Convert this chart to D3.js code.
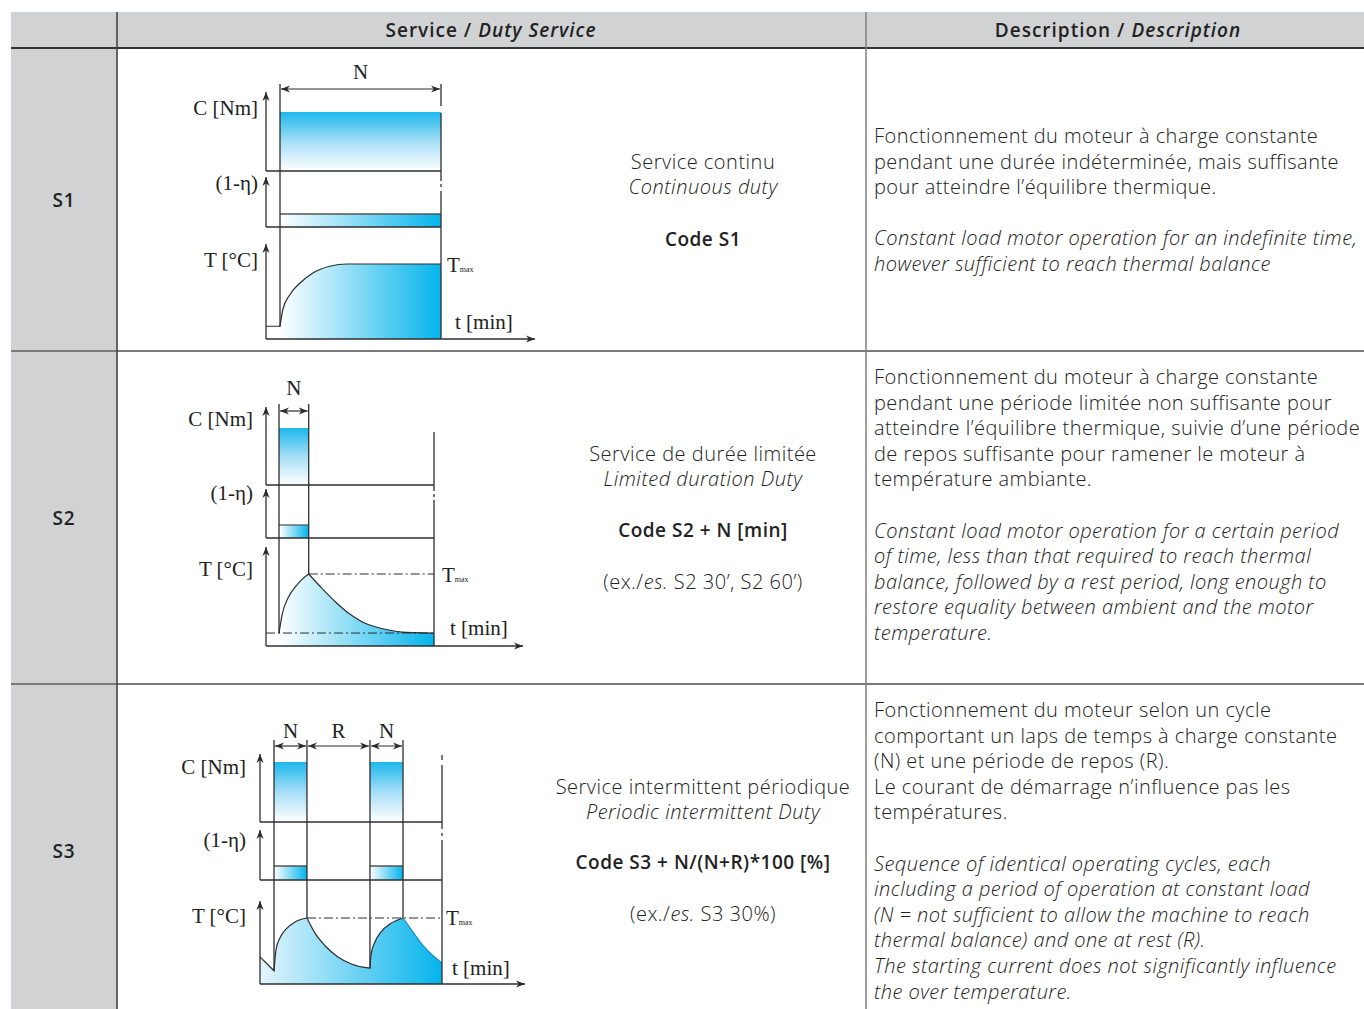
<!DOCTYPE html>
<html><head><meta charset="utf-8">
<script src="https://cdn.jsdelivr.net/npm/d3@7"></script>
<style>body{margin:0;background:#fff}svg{display:block}</style>
</head><body>
<script>
// ---------------- DATA ----------------
const headerTitles = [["Service / ", "Duty Service"], ["Description / ", "Description"]];
const rowLabels = ["S1", "S2", "S3"];
const serviceFr = ["Service continu", "Service de durée limitée", "Service intermittent périodique"];
const serviceEn = ["Continuous duty", "Limited duration Duty", "Periodic intermittent Duty"];
const serviceCodes = ["Code S1", "Code S2 + N [min]", "Code S3 + N/(N+R)*100 [%]"];
const serviceExamples = [null, ["(ex./", "es.", " S2 30’, S2 60’)"], ["(ex./", "es.", " S3 30%)"]];
const descFr = [
  ["Fonctionnement du moteur à charge constante",
   "pendant une durée indéterminée, mais suffisante",
   "pour atteindre l’équilibre thermique."],
  ["Fonctionnement du moteur à charge constante",
   "pendant une période limitée non suffisante pour",
   "atteindre l’équilibre thermique, suivie d’une période",
   "de repos suffisante pour ramener le moteur à",
   "température ambiante."],
  ["Fonctionnement du moteur selon un cycle",
   "comportant un laps de temps à charge constante",
   "(N) et une période de repos (R).",
   "Le courant de démarrage n’influence pas les",
   "températures."]
];
const descEn = [
  ["Constant load motor operation for an indefinite time,",
   "however sufficient to reach thermal balance"],
  ["Constant load motor operation for a certain period",
   "of time, less than that required to reach thermal",
   "balance, followed by a rest period, long enough to",
   "restore equality between ambient and the motor",
   "temperature."],
  ["Sequence of identical operating cycles, each",
   "including a period of operation at constant load",
   "(N = not sufficient to allow the machine to reach",
   "thermal balance) and  one at rest (R).",
   "The starting current does not significantly influence",
   "the over temperature."]
];
const axisLabels = ["C [Nm]", "(1-η)", "T [°C]"];
const timeLabel = "t [min]";
// diagram time data (arbitrary minutes), temperature in % of Tmax
const s1End = 25;
const s1Pulses = [[2, 25]];
const s1Dims = [["N", 2, 25]];
const s1Temp = [
  [[0, 17], [2, 17]],
  [[2, 17], [2.4, 39], [3.4, 59], [4.9, 75], [6.7, 88], [9.1, 97], [11.6, 100], [25, 100]]
];
const s1Refs = [];
const s2End = 24;
const s2Pulses = [[1.86, 6.1]];
const s2Dims = [["N", 1.86, 6.1]];
const s2Temp = [
  [[1.86, 18], [2.29, 43], [3.24, 68.5], [4.19, 82], [5.14, 92.6], [6.1, 100]],
  [[6.1, 100], [8, 80], [9.9, 61.5], [11.81, 45.4], [13.71, 33.8], [15.61, 26.8], [17.53, 22.2], [19.43, 19.4], [21.33, 18.5], [24, 18]]
];
const s2Refs = [[6.1, 24, 100], [0, 24, 18]];
const s3End = 26;
const s3Pulses = [[2, 6.71], [15.71, 20.43]];
const s3Dims = [["N", 2, 6.71], ["R", 6.71, 15.71], ["N", 15.71, 20.43]];
const s3Temp = [
  [[0, 41], [2, 20]],
  [[2, 20], [2.29, 52], [2.86, 70], [3.71, 83], [5, 94], [6.71, 100]],
  [[6.71, 100], [7.86, 77], [9.29, 58], [11.14, 41], [13.14, 30], [15.71, 24]],
  [[15.71, 24], [15.86, 44], [16.43, 64], [17.29, 79], [18.57, 91], [20.43, 100]],
  [[20.43, 100], [21.43, 85], [22.86, 64], [24.29, 47], [26, 32]]
];
const s3Refs = [[6.71, 26, 100]];

// ---------------- LAYOUT ----------------
const W = 1364, H = 1009;
const diagrams = [
  {end: s1End, pulses: s1Pulses, dims: s1Dims, temp: s1Temp, refs: s1Refs, fillFrom: 1, lastBlue: false,
   ax: 266, right: 441, arrowEnd: 535, extTop: 84, dimY: 89, dimLabelY: 72,
   C: {top: 92, rect: 112, bottom: 171}, E: {top: 177, rect: 214, bottom: 227}, T: {top: 244, tmax: 264, bottom: 339},
   labelX: 258, labelYs: [108, 183, 260], tmaxPos: [447, 265], tPos: [455, 322],
   rightSegs: [[84, 106], [113, 181], [184, 187], [191, 339]]},
  {end: s2End, pulses: s2Pulses, dims: s2Dims, temp: s2Temp, refs: s2Refs, fillFrom: 0, lastBlue: false,
   ax: 266, right: 434, arrowEnd: 523, extTop: 404, dimY: 411, dimLabelY: 388,
   C: {top: 407, rect: 428, bottom: 485}, E: {top: 489, rect: 525, bottom: 538}, T: {top: 547, tmax: 574, bottom: 646},
   labelX: 253, labelYs: [419, 493, 569], tmaxPos: [442, 575], tPos: [450, 628],
   rightSegs: [[432, 491], [494, 497], [500, 646]]},
  {end: s3End, pulses: s3Pulses, dims: s3Dims, temp: s3Temp, refs: s3Refs, fillFrom: 0, lastBlue: true,
   ax: 260, right: 442, arrowEnd: 525, extTop: 740, dimY: 746, dimLabelY: 731,
   C: {top: 754, rect: 762, bottom: 822}, E: {top: 830, rect: 866, bottom: 880}, T: {top: 901, tmax: 918, bottom: 984},
   labelX: 246, labelYs: [767, 840, 916], tmaxPos: [446, 918], tPos: [452, 968],
   rightSegs: [[755, 760], [765, 829], [833, 836], [840, 984]]}
];
const rowMid = [200, 518, 851];
const centerYs = [[162, 187, 239], [454, 479, 530, 582], [787, 812, 862, 914]];
const descTop = [136, 377, 710];
const lineStep = 25.6;
const SANS = "'Open Sans', 'DejaVu Sans', sans-serif";
const SERIF = "'Liberation Serif', 'DejaVu Serif', serif";
const BLUE = "#04b4ec";

const svg = d3.select("body").append("svg").attr("width", W).attr("height", H);
const defs = svg.append("defs");
const gv = defs.append("linearGradient").attr("id", "gV").attr("x1", 0).attr("y1", 0).attr("x2", 0).attr("y2", 1);
gv.append("stop").attr("offset", 0).attr("stop-color", "#1cb8ec");
gv.append("stop").attr("offset", 0.5).attr("stop-color", "#a6def6");
gv.append("stop").attr("offset", 1).attr("stop-color", "#ffffff");
const gh = defs.append("linearGradient").attr("id", "gH").attr("x1", 0).attr("y1", 0).attr("x2", 1).attr("y2", 0);
gh.append("stop").attr("offset", 0).attr("stop-color", "#ffffff");
gh.append("stop").attr("offset", 1).attr("stop-color", BLUE);
const gh2 = defs.append("linearGradient").attr("id", "gH2").attr("x1", 0).attr("y1", 0).attr("x2", 1).attr("y2", 0);
gh2.append("stop").attr("offset", 0).attr("stop-color", "#e4f5fc");
gh2.append("stop").attr("offset", 1).attr("stop-color", BLUE);
defs.append("marker").attr("id", "ah").attr("viewBox", "0 -5 10 10").attr("refX", 10).attr("refY", 0)
  .attr("markerWidth", 9).attr("markerHeight", 9).attr("markerUnits", "userSpaceOnUse")
  .attr("orient", "auto-start-reverse")
  .append("path").attr("d", "M0,-4L10,0L0,4L3,0Z").attr("fill", "#2a2a2a");

// ---------------- TABLE ----------------
const rowLines = [351, 684];
svg.append("rect").attr("x", 11).attr("y", 12).attr("width", W - 11).attr("height", 36).attr("fill", "#d1d2d4");
svg.append("rect").attr("x", 11).attr("y", 48).attr("width", 106).attr("height", H - 48).attr("fill", "#d1d2d4");
svg.selectAll(".rl").data(rowLines).join("line").attr("x1", 11).attr("x2", W).attr("y1", d => d).attr("y2", d => d)
  .attr("stroke", "#7a7a7a").attr("stroke-width", 2);
svg.append("line").attr("x1", 11).attr("x2", W).attr("y1", 48).attr("y2", 48).attr("stroke", "#333").attr("stroke-width", 2);
svg.append("line").attr("x1", 117).attr("x2", 117).attr("y1", 12).attr("y2", H).attr("stroke", "#444").attr("stroke-width", 1.6);
svg.append("line").attr("x1", 866).attr("x2", 866).attr("y1", 12).attr("y2", H).attr("stroke", "#808080").attr("stroke-width", 1.5);

const headerX = [491, 1118];
headerTitles.forEach((h, i) => {
  const t = svg.append("text").attr("x", headerX[i]).attr("y", 37).attr("text-anchor", "middle")
    .attr("font-family", SANS).attr("font-size", 19).attr("font-weight", 600).attr("letter-spacing", 1.0).attr("fill", "#222");
  t.append("tspan").text(h[0]);
  t.append("tspan").attr("font-style", "italic").text(h[1]);
});
rowLabels.forEach((r, i) => {
  svg.append("text").attr("x", 64).attr("y", rowMid[i] + 7).attr("text-anchor", "middle")
    .attr("font-family", SANS).attr("font-size", 19).attr("font-weight", 600).attr("letter-spacing", 0.8).attr("fill", "#222").text(r);
});
// center column
rowLabels.forEach((r, i) => {
  const ys = centerYs[i];
  const g = svg.append("g").attr("font-family", SANS).attr("fill", "#222").attr("text-anchor", "middle");
  const light = s => s.attr("font-size", 20).attr("font-weight", 300).attr("letter-spacing", 0.5);
  light(g.append("text").attr("x", 703).attr("y", ys[0] + 7)).text(serviceFr[i]);
  light(g.append("text").attr("x", 703).attr("y", ys[1] + 7)).attr("font-style", "italic").text(serviceEn[i]);
  g.append("text").attr("x", 703).attr("y", ys[2] + 7).attr("font-size", 19).attr("font-weight", 600)
    .attr("letter-spacing", 0.5).text(serviceCodes[i]);
  if (serviceExamples[i]) {
    const t = light(g.append("text").attr("x", 703).attr("y", ys[3] + 7));
    t.append("tspan").text(serviceExamples[i][0]);
    t.append("tspan").attr("font-style", "italic").text(serviceExamples[i][1]);
    t.append("tspan").text(serviceExamples[i][2]);
  }
});
// description column
rowLabels.forEach((r, i) => {
  const g = svg.append("g").attr("font-family", SANS).attr("font-size", 20).attr("font-weight", 300)
    .attr("letter-spacing", 0.45).attr("fill", "#222");
  descFr[i].forEach((l, j) => g.append("text").attr("x", 874).attr("y", descTop[i] + j * lineStep + 7).text(l));
  const off = descFr[i].length + 1;
  descEn[i].forEach((l, j) => g.append("text").attr("x", 874).attr("y", descTop[i] + (off + j) * lineStep + 7)
    .attr("font-style", "italic").text(l));
});

// ---------------- DIAGRAMS ----------------
const LC = "#2e2e2e";
diagrams.forEach(D => {
  const g = svg.append("g");
  const x = d3.scaleLinear().domain([0, D.end]).range([D.ax, D.right]);
  const yT = d3.scaleLinear().domain([0, 100]).range([D.T.bottom, D.T.tmax]);
  const line = d3.line().x(d => x(d[0])).y(d => yT(d[1])).curve(d3.curveMonotoneX);
  const join = segs => segs.map((s, i) => { const p = line(s); return i ? p.replace(/^M/, "L") : p; }).join("");
  const allPts = D.temp.flat();
  const tempAt = t => d3.max(allPts.filter(p => Math.abs(p[0] - t) < 1e-6), p => p[1]);

  // fill under temperature
  const fillSegs = D.temp.slice(D.fillFrom);
  const f0 = fillSegs[0][0][0], f1 = fillSegs[fillSegs.length - 1].slice(-1)[0][0];
  g.append("path").attr("d", join(fillSegs) + `L${x(f1)},${D.T.bottom}L${x(f0)},${D.T.bottom}Z`)
    .attr("fill", D.fillFrom === 0 && D.temp.length > 2 ? "url(#gH2)" : "url(#gH)");

  // pulses: C and (1-eta) rects
  D.pulses.forEach(p => {
    g.append("rect").attr("x", x(p[0])).attr("y", D.C.rect).attr("width", x(p[1]) - x(p[0]))
      .attr("height", D.C.bottom - D.C.rect).attr("fill", "url(#gV)");
    g.append("rect").attr("x", x(p[0])).attr("y", D.E.rect).attr("width", x(p[1]) - x(p[0]))
      .attr("height", D.E.bottom - D.E.rect).attr("fill", "url(#gH)");
    g.append("line").attr("x1", x(p[0])).attr("x2", x(p[1])).attr("y1", D.E.rect).attr("y2", D.E.rect)
      .attr("stroke", "#555").attr("stroke-width", 1.3);
  });

  // reference dash-dot lines
  D.refs.forEach(r => {
    g.append("line").attr("x1", x(r[0])).attr("x2", x(r[1])).attr("y1", yT(r[2])).attr("y2", yT(r[2]))
      .attr("stroke", LC).attr("stroke-width", 1).attr("stroke-dasharray", "9,3,2,3");
  });

  // temperature curve
  const darkSegs = D.lastBlue ? D.temp.slice(0, -1) : D.temp;
  g.append("path").attr("d", join(darkSegs)).attr("fill", "none").attr("stroke", LC).attr("stroke-width", 1.2);
  if (D.lastBlue) {
    g.append("path").attr("d", line(D.temp[D.temp.length - 1])).attr("fill", "none")
      .attr("stroke", "#1d8fc4").attr("stroke-width", 1.2);
  }

  // axes
  [D.C, D.E].forEach(P => {
    g.append("line").attr("x1", D.ax).attr("x2", D.ax).attr("y1", P.bottom).attr("y2", P.top)
      .attr("stroke", LC).attr("stroke-width", 1.3).attr("marker-end", "url(#ah)");
    g.append("line").attr("x1", D.ax).attr("x2", D.right).attr("y1", P.bottom).attr("y2", P.bottom)
      .attr("stroke", LC).attr("stroke-width", 1.3);
  });
  g.append("line").attr("x1", D.ax).attr("x2", D.ax).attr("y1", D.T.bottom).attr("y2", D.T.top)
    .attr("stroke", LC).attr("stroke-width", 1.3).attr("marker-end", "url(#ah)");
  g.append("line").attr("x1", D.ax).attr("x2", D.arrowEnd).attr("y1", D.T.bottom).attr("y2", D.T.bottom)
    .attr("stroke", LC).attr("stroke-width", 1.3).attr("marker-end", "url(#ah)");

  // pulse boundary verticals
  const bounds = Array.from(new Set(D.pulses.flat())).filter(t => t < D.end);
  bounds.forEach(t => {
    g.append("line").attr("x1", x(t)).attr("x2", x(t)).attr("y1", D.extTop).attr("y2", yT(tempAt(t)))
      .attr("stroke", LC).attr("stroke-width", 1.3);
  });
  // right boundary
  D.rightSegs.forEach(s => {
    g.append("line").attr("x1", D.right).attr("x2", D.right).attr("y1", s[0]).attr("y2", s[1])
      .attr("stroke", LC).attr("stroke-width", 1.3);
  });

  // dimension arrows
  D.dims.forEach(d => {
    g.append("line").attr("x1", x(d[1]) + 1).attr("x2", x(d[2]) - 1).attr("y1", D.dimY).attr("y2", D.dimY)
      .attr("stroke", LC).attr("stroke-width", 1.2)
      .attr("marker-start", "url(#ah)").attr("marker-end", "url(#ah)");
    g.append("text").attr("x", (x(d[1]) + x(d[2])) / 2).attr("y", D.dimLabelY + 7).attr("text-anchor", "middle")
      .attr("font-family", SERIF).attr("font-size", 21).attr("fill", "#222").text(d[0]);
  });

  // labels
  axisLabels.forEach((l, i) => {
    g.append("text").attr("x", D.labelX).attr("y", D.labelYs[i] + 7).attr("text-anchor", "end")
      .attr("font-family", SERIF).attr("font-size", 21).attr("fill", "#222").text(l);
  });
  const tm = g.append("text").attr("x", D.tmaxPos[0]).attr("y", D.tmaxPos[1] + 7)
    .attr("font-family", SERIF).attr("font-size", 21).attr("fill", "#222");
  tm.append("tspan").text("T");
  tm.append("tspan").attr("font-size", 8).text("max");
  g.append("text").attr("x", D.tPos[0]).attr("y", D.tPos[1] + 7)
    .attr("font-family", SERIF).attr("font-size", 21).attr("fill", "#222").text(timeLabel);
});
</script>
</body></html>
